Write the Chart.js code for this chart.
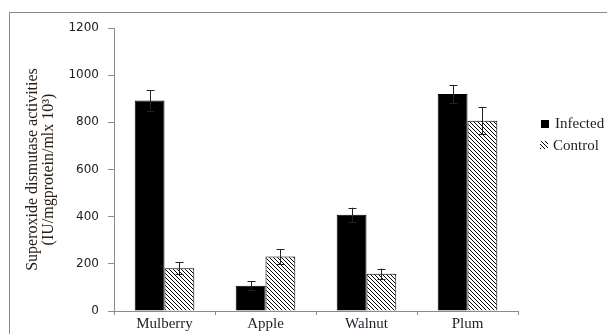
<!DOCTYPE html>
<html>
<head>
<meta charset="utf-8">
<script src="https://cdn.jsdelivr.net/npm/chart.js@4.4.1/dist/chart.umd.min.js"></script>
<style>
    html, body { margin: 0; padding: 0; background: #fff; }
    #wrap { width: 607px; height: 334px; }
</style>
</head>
<body>
<div id="wrap"><canvas id="myChart" width="607" height="334"></canvas></div>
<script>
// data
const categories = ['Mulberry', 'Apple', 'Walnut', 'Plum'];
const infected = [893, 107, 408, 920];
const infectedErr = [43, 19, 30, 38];
const control = [181, 231, 158, 807];
const controlErr = [26, 31, 22, 58];
const yTicks = [0, 200, 400, 600, 800, 1000, 1200];

function makeHatch() {
    let s = 4;
    let c = document.createElement('canvas');
    c.width = s;
    c.height = s;
    let g = c.getContext('2d');
    g.fillStyle = '#fff';
    g.fillRect(0, 0, s, s);
    g.strokeStyle = '#000';
    g.lineWidth = 1;
    g.beginPath();
    g.moveTo(0, 0); g.lineTo(s, s);
    g.moveTo(-1, s - 1); g.lineTo(1, s + 1);
    g.moveTo(s - 1, -1); g.lineTo(s + 1, 1);
    g.stroke();
    return g.createPattern(c, 'repeat');
}
const hatch = makeHatch();

const errors = [infectedErr, controlErr];

//frame + error bars + legend
const extras = {
    id: 'extras',
    beforeDraw(chart) {
        let ctx = chart.ctx;
        ctx.save();
        ctx.strokeStyle = '#8a8a8a';
        ctx.lineWidth = 1;
        ctx.strokeRect(9.5, 12.5, 620, 340);
        ctx.restore();
    },
    afterDatasetsDraw(chart) {
        let ctx = chart.ctx;
        let y = chart.scales.y;
        ctx.save();
        ctx.strokeStyle = '#222';
        ctx.lineWidth = 1;
        chart.data.datasets.forEach((ds, i) => {
            chart.getDatasetMeta(i).data.forEach((bar, j) => {
                let x = Math.round(bar.x) + 0.5;
                let top = y.getPixelForValue(ds.data[j] + errors[i][j]);
                let bot = y.getPixelForValue(ds.data[j] - errors[i][j]);
                ctx.beginPath();
                ctx.moveTo(x, top); ctx.lineTo(x, bot);
                ctx.moveTo(x - 4, Math.round(top) + 0.5); ctx.lineTo(x + 4, Math.round(top) + 0.5);
                ctx.moveTo(x - 4, Math.round(bot) + 0.5); ctx.lineTo(x + 4, Math.round(bot) + 0.5);
                ctx.stroke();
            });
        });
        ctx.restore();
    },
    afterDraw(chart) {
        let ctx = chart.ctx;
        ctx.save();
        ctx.font = '15px "Liberation Serif", serif';
        ctx.textBaseline = 'middle';
        ctx.fillStyle = '#000';
        ctx.fillRect(541, 120, 8, 8);
        ctx.fillStyle = hatch;
        ctx.fillRect(540, 141, 8, 8);
        ctx.fillStyle = '#1e1e2a';
        ctx.fillText('Infected', 555, 124);
        ctx.fillText('Control', 553, 146);
        ctx.restore();
    }
};

new Chart(document.getElementById('myChart'), {
    type: 'bar',
    data: {
        labels: categories,
        datasets: [{
            label: 'Infected',
            data: infected,
            backgroundColor: '#000',
            borderColor: '#000',
            borderWidth: 1
        }, {
            label: 'Control',
            data: control,
            backgroundColor: hatch,
            borderColor: '#000',
            borderWidth: 1
        }]
    },
    options: {
        responsive: false,
        animation: false,
        events: [],
        layout: {
            padding: {left: 24, right: 89, top: 28, bottom: 0}
        },
        datasets: {
            bar: {categoryPercentage: 0.59, barPercentage: 1.0}
        },
        plugins: {
            legend: {display: false},
            tooltip: {enabled: false}
        },
        scales: {
            x: {
                offset: true,
                grid: {
                    offset: true,
                    drawOnChartArea: false,
                    drawTicks: true,
                    tickLength: 4,
                    color: '#8a8a8a'
                },
                border: {color: '#8a8a8a'},
                ticks: {
                    color: '#1e1e2a',
                    padding: 0,
                    font: {family: '"Liberation Serif", serif', size: 15}
                },
                afterFit: (scale) => { scale.height = 23; }
            },
            y: {
                min: 0,
                max: 1200,
                afterBuildTicks: (scale) => { scale.ticks = yTicks.map(v => ({value: v})); },
                grid: {
                    drawOnChartArea: false,
                    drawTicks: true,
                    tickLength: 6,
                    color: '#8a8a8a'
                },
                border: {color: '#8a8a8a'},
                ticks: {
                    color: '#222',
                    padding: 9,
                    font: {family: '"DejaVu Sans", sans-serif', size: 12},
                    callback: (v) => String(v)
                },
                title: {
                    display: true,
                    text: ['Superoxide dismutase activities', '(IU/mgprotein/mlx 10³)'],
                    color: '#2a2016',
                    padding: 0,
                    font: {family: '"Liberation Serif", serif', size: 16, lineHeight: 1.05}
                },
                afterFit: (scale) => { scale.width = 90; }
            }
        }
    },
    plugins: [extras]
});
</script>
</body>
</html>
